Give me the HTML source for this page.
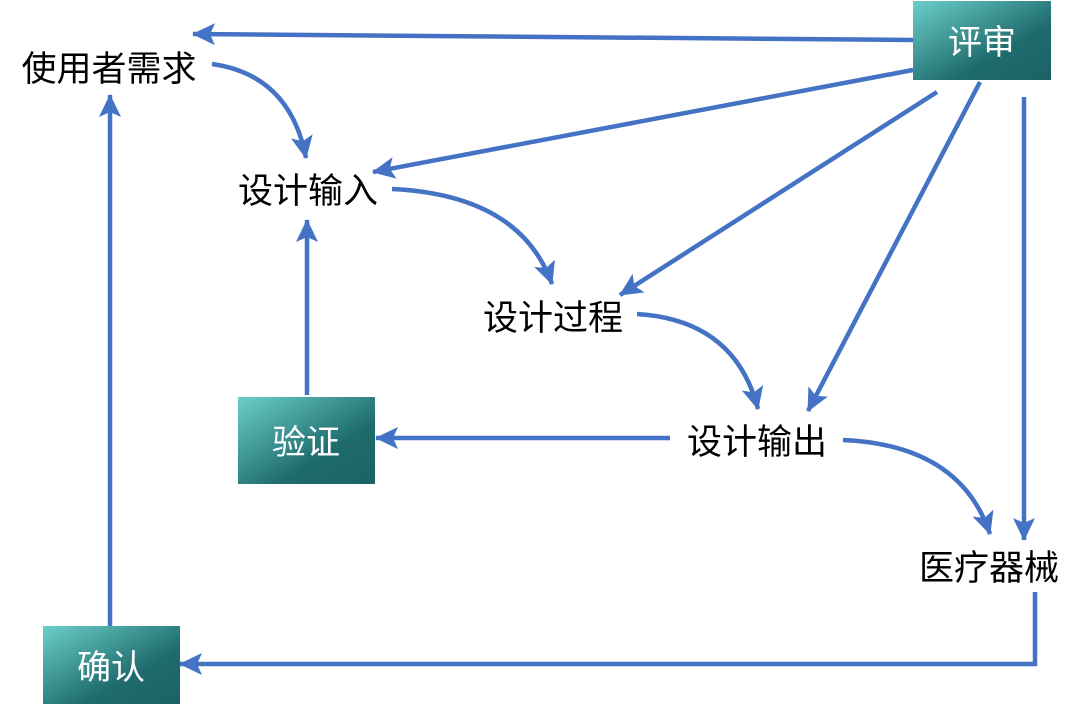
<!DOCTYPE html>
<html><head><meta charset="utf-8"><style>
html,body{margin:0;padding:0;background:#fff;}
svg{display:block}
text{font-family:"Liberation Sans","Noto Sans CJK SC",sans-serif;}
</style></head><body>
<svg width="1080" height="708" viewBox="0 0 1080 708" xmlns="http://www.w3.org/2000/svg">
<defs>
<linearGradient id="g" x1="0" y1="0" x2="1" y2="1">
<stop offset="0" stop-color="#6ccfc9"/><stop offset="0.65" stop-color="#1e6b6d"/><stop offset="1" stop-color="#1b6265"/>
</linearGradient>
<marker id="a" markerUnits="userSpaceOnUse" markerWidth="26" markerHeight="24" refX="22" refY="11" orient="auto">
<path d="M0,0 L23,11 L0,22 L5,11 Z" fill="#4472c4"/>
</marker>
</defs>
<g stroke="#4472c4" stroke-width="4.5" fill="none" marker-end="url(#a)">
<line x1="913" y1="40" x2="193" y2="34"/>
<path d="M212,64 Q290,75 306,158"/>
<line x1="913" y1="70" x2="373" y2="172"/>
<line x1="937" y1="92" x2="620" y2="295"/>
<line x1="980" y1="82" x2="808" y2="411"/>
<line x1="1024" y1="97" x2="1024" y2="540"/>
<path d="M392,189 Q520,195 552,284"/>
<path d="M637,314 Q735,320 758,409"/>
<path d="M843,440 Q960,445 990,534"/>
<line x1="670" y1="438" x2="376" y2="438"/>
<line x1="307" y1="395" x2="307" y2="220"/>
<polyline points="1035,592 1035,664 180,664"/>
<line x1="110" y1="626" x2="110" y2="95"/>
</g>
<rect x="913" y="1" width="138" height="79" fill="url(#g)"/>
<rect x="238" y="397" width="137" height="87" fill="url(#g)"/>
<rect x="43" y="626" width="137" height="78" fill="url(#g)"/>
<g fill="#fff" font-size="34" text-anchor="middle">
<text x="982" y="54">评审</text>
<text x="306" y="454">验证</text>
<text x="111" y="679">确认</text>
</g>
<g fill="#000" font-size="35" text-anchor="middle">
<text x="109" y="81">使用者需求</text>
<text x="308" y="203">设计输入</text>
<text x="553" y="330">设计过程</text>
<text x="757" y="454">设计输出</text>
<text x="989" y="580">医疗器械</text>
</g>
</svg>
</body></html>
